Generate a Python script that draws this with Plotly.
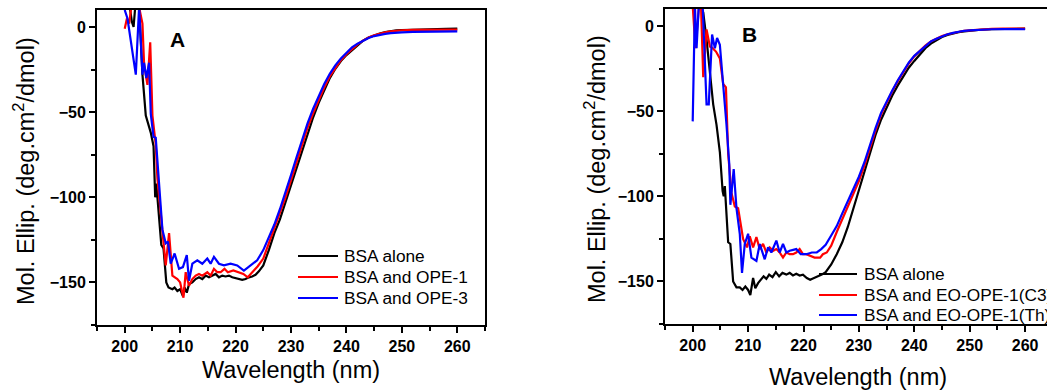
import plotly.graph_objects as go

# ---------------- data ----------------
# Panel A
A_bsa_x = [200.9, 201.3, 201.6, 201.9, 202.6, 203.2, 203.8, 204.3, 204.7, 205.2, 205.5, 205.7, 206.2, 206.6, 207.0,
           207.5, 207.9, 208.6, 209.0, 209.5, 210.0, 210.5, 210.8, 211.2, 211.6, 212.2, 212.8, 213.4, 214.0, 214.6,
           215.2, 215.8, 216.4, 217.0, 217.6, 218.2, 218.8, 219.4, 220.0, 220.6, 221.2, 221.8, 222.4, 223.0, 223.6,
           224.2, 225, 226, 227, 228, 229, 230, 231, 232, 233, 234, 235, 236, 237, 238, 239, 240, 241, 242, 243,
           244, 245, 246, 247, 248, 249, 250, 252, 254, 256, 258, 260]
A_bsa_y = [12, 3, 0, 12, 12, -28, -52, -58, -62, -70, -100, -92, -110, -128, -130,
           -150, -153, -154, -153, -155, -154, -158, -153, -156, -151, -150, -148, -147, -148, -146,
           -147, -146, -145, -147, -146, -146.5, -146, -147, -147.5, -148, -148.5, -148, -147, -146.5, -145.5,
           -143.5, -140, -131, -121, -113, -103, -92, -82, -72, -62, -53, -44.5, -37, -30, -24.5, -20, -16.5, -13.5, -10.5, -8,
           -6.2, -4.8, -3.8, -3.0, -2.4, -2.0, -1.8, -1.5, -1.3, -1.1, -1.0, -0.9]

A_ope1_x = [200.0, 200.4, 200.8, 201.2, 202.0, 202.7, 203.2, 203.5, 204.1, 204.6, 205.0, 205.6, 205.9, 206.5, 206.9,
            207.4, 208.0, 208.6, 209.5, 210.0, 210.6, 211.0, 211.6, 212.2, 212.8, 213.4, 214.0, 214.9, 215.5, 216.1,
            216.7, 217.3, 218.0, 218.6, 219.6, 220.4, 221.4, 222.2, 222.8, 223.4, 224, 225, 226, 227, 228, 229, 230,
            231, 232, 233, 234, 235, 236, 237, 238, 239, 240, 241, 242, 243, 244, 245, 246, 247, 248, 249, 250,
            252, 254, 256, 258, 260]
A_ope1_y = [-1, 5, 2, 12, 12, 10, 2, -22, -34, -9, -52, -69, -89, -109, -122,
            -140, -121, -146, -148, -150, -159, -144, -152, -148, -146, -145, -146, -144, -146, -142,
            -144, -144, -142, -144, -143, -144, -145, -147, -145, -143, -140.5, -136, -127, -118.5, -110, -100, -90,
            -79.5, -69, -59, -50.5, -42.5, -35.5, -29, -24, -19.5, -16, -13, -10.2, -8, -6.2, -4.9, -3.9, -3.1, -2.6, -2.2, -1.9,
            -1.7, -1.6, -1.5, -1.5, -1.5]

A_ope3_x = [200.0, 200.5, 202.0, 202.6, 203.2, 203.5, 203.9, 204.4, 204.7, 205.2, 205.6, 205.9, 206.5, 206.8, 207.4,
            207.8, 208.3, 209.0, 209.8, 210.5, 211.2, 211.6, 212.2, 213.1, 214.0, 214.9, 215.5, 216.1, 217.0, 217.9,
            219.1, 220.3, 221.5, 222.7, 223.9, 225, 226, 227, 228, 229, 230, 231, 232, 233, 234, 235, 236, 237, 238,
            239, 240, 241, 242, 243, 244, 245, 246, 247, 248, 249, 250, 252, 254, 256, 258, 260]
A_ope3_y = [10, 5, -28, 12, -28, -21, -30, -21, -51, -64.5, -65, -78, -106, -119, -127,
            -126, -139, -133, -142, -141, -134, -149, -139, -137, -139, -136, -139, -135, -139, -140,
            -139, -140, -143, -140, -137, -131, -124, -116, -107, -97.5, -87, -76.5, -66, -56.5, -48, -40.5, -33.5, -27.5, -22.5,
            -18.5, -15, -12, -9.8, -8, -6.5, -5.3, -4.5, -4, -3.6, -3.3, -3.1, -2.9, -2.7, -2.6, -2.5, -2.5]

# Panel B
B_bsa_x = [201.3, 201.9, 202.5, 203.1, 203.7, 204.3, 204.9, 205.4, 205.6, 205.8, 206.1, 206.4, 206.8, 207.3, 207.9,
           208.5, 209.0, 209.5, 210.0, 210.4, 210.9, 211.3, 211.8, 212.3, 212.8, 213.3, 213.8, 214.4, 215.0, 215.6,
           216.2, 216.9, 217.5, 218.1, 218.7, 219.3, 219.9, 220.6, 221.2, 221.9, 222.6, 223.3, 224.0, 224.5,
           225, 226, 227, 228, 229, 230, 231, 232, 233, 234, 235, 236, 237, 238, 239, 240, 241, 242, 243, 244,
           245, 246, 247, 248, 249, 250, 252, 254, 256, 258, 260]
B_bsa_y = [12, 8, -8, -27, -46, -58, -74, -97, -100, -94, -112, -127, -128, -150, -153.5,
           -153.5, -155, -153, -155, -158, -148, -154, -151, -149, -147, -148.5, -146, -147.5, -144.5, -147,
           -145, -146, -145, -146.5, -145.5, -146.5, -146, -148, -149, -148, -147, -146, -144.5, -142,
           -140, -134, -127, -118, -107, -96, -85, -74, -64, -55, -47.5, -41, -35, -29.5, -24.5, -20.5, -16.5, -13, -10.3, -8.2,
           -6.5, -5.3, -4.4, -3.6, -3.1, -2.7, -2.2, -1.9, -1.7, -1.6, -1.5]

B_c3_x = [200.0, 200.5, 201.1, 201.5, 201.9, 202.5, 203.1, 203.6, 204.2, 204.9, 205.5, 206.0, 206.4, 207.0, 207.6,
          208.2, 208.6, 209.1, 209.8, 210.3, 210.9, 211.5, 212.1, 212.7, 213.3, 213.9, 214.5, 215.1, 215.7, 216.3,
          216.9, 217.5, 218.1, 218.7, 219.3, 219.9, 220.5, 221.2, 222.0, 223.0, 223.5, 224.2,
          225, 226, 227, 228, 229, 230, 231, 232, 233, 234, 235, 236, 237, 238, 239, 240, 241, 242, 243, 244,
          245, 246, 247, 248, 249, 250, 252, 254, 256, 258, 260]
B_c3_y = [12, -13, 10, 12, -30, -2, -12, -13, -15, -19, -34, -36, -75, -98, -106,
          -107, -115, -125, -130, -123.5, -130, -124, -131, -128, -133, -130, -132, -131, -133, -136,
          -133, -134, -134, -133, -131, -134, -134, -135, -136, -136, -134, -133,
          -129, -121, -113, -106, -98.5, -91, -82, -71.5, -61.5, -52, -45, -38.5, -32.5, -27, -22, -17.8, -14.5, -11.5, -9, -7.3,
          -5.9, -4.8, -4, -3.3, -2.8, -2.5, -2, -1.7, -1.5, -1.4, -1.5]

B_th_x = [200.0, 200.4, 200.7, 201.1, 201.8, 202.2, 202.5, 202.9, 203.5, 204.0, 204.4, 204.9, 205.4, 206.1, 206.6,
          206.8, 207.4, 207.9, 208.5, 208.9, 209.4, 210.0, 210.6, 211.5, 212.1, 213.0, 213.6, 214.2, 215.1, 215.7,
          216.3, 216.9, 217.5, 218.7, 219.5, 220.5, 221.5, 222.4, 223.2, 224.0,
          225, 226, 227, 228, 229, 230, 231, 232, 233, 234, 235, 236, 237, 238, 239, 240, 241, 242, 243, 244,
          245, 246, 247, 248, 249, 250, 252, 254, 256, 258, 260]
B_th_y = [-56, 12, -13, 12, 12, -20, -46, -46, -5, -13, -7, -11, -29, -58, -81,
          -105, -84, -107, -122, -145, -128, -122, -136, -138, -128, -137, -130, -133, -126, -133,
          -128, -133, -132, -131, -134, -134, -133, -133, -131, -128.5,
          -123, -117.5, -110, -103, -96, -88.5, -80, -69.5, -60, -51, -44, -38, -32, -26.5, -21.5, -17.5, -14.5, -11.5, -9, -7.5,
          -6, -4.8, -4, -3.3, -2.8, -2.5, -2.1, -1.9, -1.8, -1.8, -1.9]

names_A = ["BSA alone", "BSA and OPE-1", "BSA and OPE-3"]
names_B = ["BSA alone", "BSA and EO-OPE-1(C3)", "BSA and EO-OPE-1(Th)"]
series_colors = ["#000000", "#ff0000", "#0000ff"]
panel_labels = ["A", "B"]
x_tick_vals = [200, 210, 220, 230, 240, 250, 260]
x_tick_text = ["200", "210", "220", "230", "240", "250", "260"]
y_tick_vals = [-150, -100, -50, 0]
y_tick_text = ["\u2212150", "\u2212100", "\u221250", "0"]
x_title = "Wavelength (nm)"
y_title = "Mol. Ellip. (deg.cm<sup>2</sup>/dmol)"

# ---------------- layout helpers ----------------
W, H = 1047, 391
FONT = "Liberation Sans, Arial, sans-serif"


def pxx(v):
    return v / W


def pxy(v):
    return 1 - v / H


fig = go.Figure()

A_series = [(A_bsa_x, A_bsa_y), (A_ope1_x, A_ope1_y), (A_ope3_x, A_ope3_y)]
B_series = [(B_bsa_x, B_bsa_y), (B_c3_x, B_c3_y), (B_th_x, B_th_y)]

for (xs, ys), nm, c in zip(A_series, names_A, series_colors):
    fig.add_trace(go.Scatter(x=xs, y=ys, mode="lines", name=nm, line=dict(color=c, width=2.2),
                             xaxis="x", yaxis="y", showlegend=False))
for (xs, ys), nm, c in zip(B_series, names_B, series_colors):
    fig.add_trace(go.Scatter(x=xs, y=ys, mode="lines", name=nm, line=dict(color=c, width=2.2),
                             xaxis="x2", yaxis="y2", showlegend=False))

axis_common = dict(
    showline=True, linewidth=2, linecolor="black",
    ticks="outside", ticklen=6, tickwidth=2, tickcolor="black",
    showgrid=False, zeroline=False,
    tickfont=dict(family=FONT, size=16, color="black", weight=700),
)

x_px_per_unit = 5.54
xa = dict(axis_common, range=[195, 265], tickmode="array", tickvals=x_tick_vals,
          ticktext=["<b>" + t + "</b>" for t in x_tick_text],
          minor=dict(ticks="outside", ticklen=4, tickwidth=2, tickcolor="black",
                     tickmode="linear", dtick=5, tick0=0, showgrid=False))
ya = dict(axis_common, range=[-175, 10], tickmode="array", tickvals=y_tick_vals,
          ticktext=["<b>" + t + "</b>" for t in y_tick_text],
          minor=dict(ticks="outside", ticklen=4, tickwidth=2, tickcolor="black",
                     tickmode="linear", dtick=25, tick0=0, showgrid=False))

fig.update_layout(
    width=W, height=H,
    margin=dict(l=0, r=0, t=0, b=0, autoexpand=False),
    paper_bgcolor="white", plot_bgcolor="white",
    showlegend=False,
    xaxis=dict(xa, domain=[pxx(97), pxx(485)], anchor="y", mirror=True),
    yaxis=dict(ya, domain=[pxy(325), pxy(10)], anchor="x", mirror=True),
    xaxis2=dict(xa, domain=[pxx(665), 1.0], anchor="y2", mirror=True,
                range=[195, 195 + (W - 665) / x_px_per_unit]),
    yaxis2=dict(ya, domain=[pxy(324), pxy(9)], anchor="x2", mirror=False),
)

annotations = []
shapes = []

# axis titles
for cx, cy in [(291, 370), (858, 377)]:
    annotations.append(dict(text=x_title, x=pxx(cx), y=pxy(cy), xref="paper", yref="paper",
                            xanchor="center", yanchor="middle", showarrow=False,
                            font=dict(family=FONT, size=23.5, color="black")))
for cx, cy in [(24, 171), (595, 169)]:
    annotations.append(dict(text=y_title, x=pxx(cx), y=pxy(cy), xref="paper", yref="paper",
                            xanchor="center", yanchor="middle", showarrow=False, textangle=-90,
                            font=dict(family=FONT, size=23.5, color="black")))

# panel letters
for lab, (cx, cy) in zip(panel_labels, [(177, 40), (749, 35)]):
    annotations.append(dict(text="<b>" + lab + "</b>", x=pxx(cx), y=pxy(cy), xref="paper", yref="paper",
                            xanchor="center", yanchor="middle", showarrow=False,
                            font=dict(family=FONT, size=21, color="black")))

# legends (drawn manually)
legend_specs = [
    (names_A, 298, 338, 342, [256, 277, 298]),
    (names_B, 819, 857, 862, [274, 295, 315]),
]
for names, lx0, lx1, tx, rows in legend_specs:
    for nm, c, ry in zip(names, series_colors, rows):
        shapes.append(dict(type="line", xref="paper", yref="paper",
                           x0=pxx(lx0), x1=pxx(lx1), y0=pxy(ry), y1=pxy(ry),
                           line=dict(color=c, width=2.2)))
        annotations.append(dict(text=nm, x=pxx(tx), y=pxy(ry), xref="paper", yref="paper",
                                xanchor="left", yanchor="middle", showarrow=False,
                                font=dict(family=FONT, size=17.3, color="black")))

fig.update_layout(annotations=annotations, shapes=shapes)

fig.write_html("out.html")
